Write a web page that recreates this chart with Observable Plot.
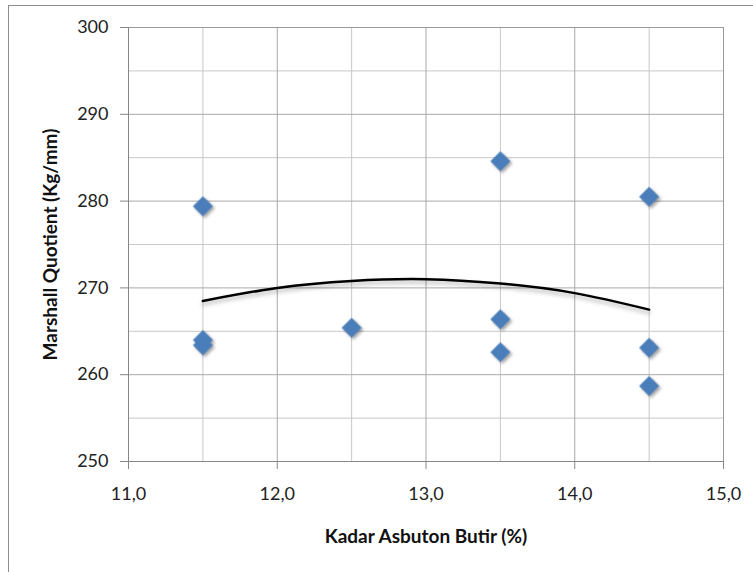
<!DOCTYPE html>
<html>
<head>
<meta charset="utf-8">
<script src="https://cdn.jsdelivr.net/npm/d3@7"></script>
<script src="https://cdn.jsdelivr.net/npm/@observablehq/plot@0.6"></script>
<style>
  body { margin: 0; background: #fff; }
  #wrap { position: relative; width: 753px; height: 572px; overflow: hidden; }
  #border { position: absolute; left: 8px; top: 5px; width: 900px; height: 900px; border: 1px solid #8c8c8c; pointer-events: none; }
  g[aria-label="dot"] { filter: drop-shadow(2px 2px 1.5px rgba(0,0,0,0.35)); }
  g[aria-label="line"] { filter: drop-shadow(0px 3px 2px rgba(0,0,0,0.3)); }
</style>
</head>
<body>
<div id="wrap"><div id="border"></div></div>
<script>
const xPct = [11.5, 11.5, 11.5, 12.5, 13.5, 13.5, 13.5, 14.5, 14.5, 14.5];
const quotient = [279.4, 264.0, 263.4, 265.4, 284.6, 266.4, 262.6, 280.5, 263.1, 258.7];
const trendX = [11.5, 12.0, 12.5, 13.0, 13.5, 14.0, 14.5];
const trendY = [268.5, 270.0, 270.8, 271.0, 270.5, 269.4, 267.5];
const xTicks = [11, 12, 13, 14, 15];
const xMinorTicks = [11.5, 12.5, 13.5, 14.5];
const yTicks = [250, 260, 270, 280, 290, 300];
const yMinorTicks = [255, 265, 275, 285, 295];
const xTitle = "Kadar Asbuton Butir (%)";
const yTitle = "Marshall Quotient (Kg/mm)";

const points = xPct.map((x, i) => ({x, y: quotient[i]}));
const trend = trendX.map((x, i) => ({x, y: trendY[i]}));

const chart = Plot.plot({
  width: 753,
  height: 572,
  marginLeft: 128,
  marginRight: 30,
  marginTop: 27,
  marginBottom: 111,
  style: {fontFamily: "Lato, sans-serif", fontSize: "18px", color: "#222", background: "transparent"},
  x: {domain: [11, 15]},
  y: {domain: [250, 300]},
  marks: [
    Plot.gridX(xMinorTicks, {stroke: "#c8c8c8", strokeOpacity: 1}),
    Plot.gridY(yMinorTicks, {stroke: "#c8c8c8", strokeOpacity: 1}),
    Plot.gridX(xTicks, {stroke: "#a8a8a8", strokeOpacity: 1}),
    Plot.gridY(yTicks, {stroke: "#a8a8a8", strokeOpacity: 1}),
    Plot.frame({stroke: "#9a9a9a"}),
    Plot.ruleX([11], {stroke: "#868686"}),
    Plot.ruleY([250], {stroke: "#868686"}),
    Plot.axisX(xTicks, {tickSize: 8, tickPadding: 18, stroke: "#868686", fontSize: 18, label: null,
      tickFormat: d => d.toFixed(1).replace(".", ",")}),
    Plot.axisY(yTicks, {tickSize: 8, tickPadding: 12, stroke: "#868686", fontSize: 18, label: null}),
    Plot.line(trend, {x: "x", y: "y", curve: "natural", stroke: "#000", strokeWidth: 2.5}),
    Plot.dot(points, {x: "x", y: "y", symbol: "diamond2", r: 9, fill: "#4a7ebb", stroke: "none"}),
    Plot.text([xTitle], {frameAnchor: "bottom", dy: 75, lineAnchor: "middle", textAnchor: "middle", fontWeight: "bold", fontSize: 19, fill: "#111"}),
    Plot.text([yTitle], {frameAnchor: "left", dx: -78, rotate: -90, textAnchor: "middle", lineAnchor: "middle", fontWeight: "bold", fontSize: 19, fill: "#111"})
  ]
});
document.getElementById("wrap").appendChild(chart);
chart.style.position = "absolute";
chart.style.left = "0px";
chart.style.top = "0px";
</script>
</body>
</html>
